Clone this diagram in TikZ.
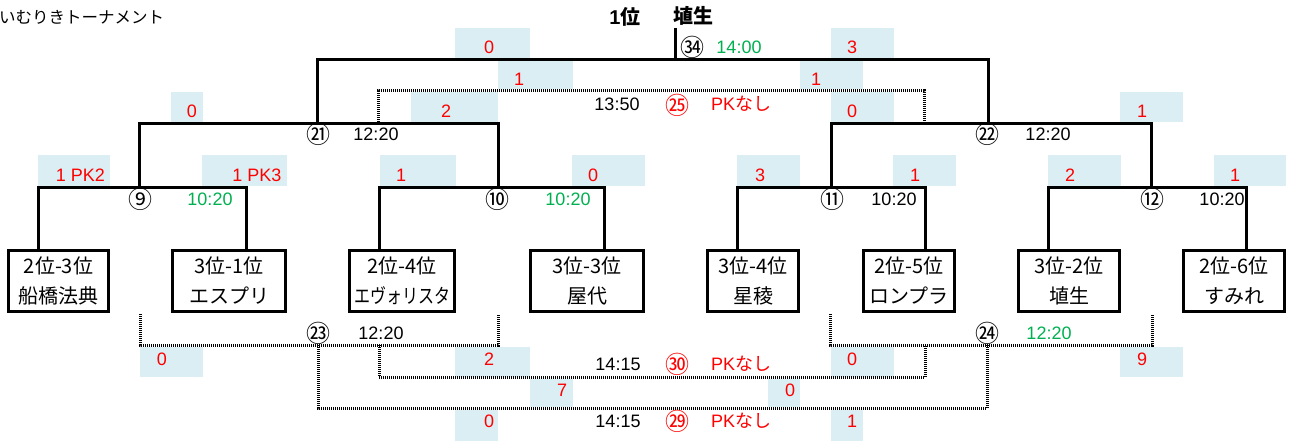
\documentclass[tikz,border=0pt]{standalone}
\usepackage{graphicx}
\usepackage{fontspec}
\setmainfont{Noto Sans CJK JP}
\newfontfamily\lat{Liberation Sans}
\definecolor{scoreblue}{RGB}{218,238,243}
\definecolor{xred}{RGB}{255,0,0}
\definecolor{xgreen}{RGB}{0,176,80}
\begin{document}
\begin{tikzpicture}[x=1pt,y=-1pt,
  sol/.style={line width=3pt},
  dotl/.style={line width=3pt,dash pattern=on 1pt off 1pt},
  team/.style={draw,line width=3.5pt,minimum height=61pt,inner sep=0pt,align=center,font=\fontsize{20}{30}\selectfont},
  sc/.style={fill=scoreblue,draw=none},
  num/.style={inner sep=0pt,font=\lat\fontsize{18}{18}\selectfont,text=xred},
  tm/.style={inner sep=0pt,font=\lat\fontsize{18}{18}\selectfont},
  cn/.style={inner sep=0pt,font=\fontsize{24}{24}\selectfont},
  pk/.style={inner sep=0pt,font=\fontsize{18}{18}\selectfont,text=xred},
]
\useasboundingbox (0,0) rectangle (1292,441);
% score backgrounds
\fill[sc] (455,28) rectangle (530,58);
\fill[sc] (831,28) rectangle (894,58);
\fill[sc] (498,61) rectangle (573,89);
\fill[sc] (800,61) rectangle (863,89);
\fill[sc] (171,92) rectangle (203,122);
\fill[sc] (411,92) rectangle (498,122);
\fill[sc] (831,92) rectangle (894,122);
\fill[sc] (1120,92) rectangle (1183,122);
\fill[sc] (38,155) rectangle (110,186);
\fill[sc] (202,155) rectangle (287,186);
\fill[sc] (380,155) rectangle (456,186);
\fill[sc] (572,155) rectangle (645,186);
\fill[sc] (737,155) rectangle (800,186);
\fill[sc] (893,155) rectangle (956,186);
\fill[sc] (1048,155) rectangle (1121,186);
\fill[sc] (1214,155) rectangle (1286,186);
\fill[sc] (140,347) rectangle (203,377);
\fill[sc] (455,347) rectangle (530,377);
\fill[sc] (831,347) rectangle (894,377);
\fill[sc] (1120,347) rectangle (1183,377);
\fill[sc] (530,379) rectangle (573,407);
\fill[sc] (768,379) rectangle (800,407);
\fill[sc] (455,410) rectangle (498,441);
\fill[sc] (831,410) rectangle (863,441);

% title
\node[anchor=west,inner sep=0pt,font=\fontsize{16.5}{16.5}\selectfont] (title) at (-1,17) {いむりきトーナメント};
\node[inner sep=0pt,font=\bfseries\fontsize{20}{20}\selectfont] (rank) at (625,17) {{\lat 1}位};
\node[inner sep=0pt,font=\bfseries\fontsize{20}{20}\selectfont] (champ) at (693,16) {埴生};

% teams
\node[team,minimum width=100pt] (b1) at (58.5,281) {2位-3位\\船橋法典};
\node[team,minimum width=113pt] (b2) at (229,281) {3位-1位\\エスプリ};
\node[team,minimum width=105pt] (b3) at (402,281) {2位-4位\\\scalebox{0.8}[1]{エヴォリスタ}};
\node[team,minimum width=113pt] (b4) at (587,281) {3位-3位\\屋代};
\node[team,minimum width=91pt] (b5) at (753,281) {3位-4位\\星稜};
\node[team,minimum width=91pt] (b6) at (909,281) {2位-5位\\ロンプラ};
\node[team,minimum width=101pt] (b7) at (1069,281) {3位-2位\\埴生};
\node[team,minimum width=101pt] (b8) at (1234,281) {2位-6位\\すみれ};

% joints
\coordinate (top) at (675,28);
\coordinate (m34L) at (317,60); \coordinate (m34) at (675,60); \coordinate (m34R) at (988,60);
\coordinate (m21) at (317,124); \coordinate (m21L) at (139,124); \coordinate (m21R) at (498,124);
\coordinate (m22) at (988,124); \coordinate (m22L) at (831,124); \coordinate (m22R) at (1151,124);
\coordinate (m9) at (139,187); \coordinate (m9L) at (38,187); \coordinate (m9R) at (246,187);
\coordinate (m10) at (498,187); \coordinate (m10L) at (379,187); \coordinate (m10R) at (604,187);
\coordinate (m11) at (831,187); \coordinate (m11L) at (737,187); \coordinate (m11R) at (925,187);
\coordinate (m12) at (1151,187); \coordinate (m12L) at (1048,187); \coordinate (m12R) at (1246,187);

\draw[sol] (top) -- (m34);
\draw[sol] (m21) -- (m34L) -- (m34R) -- (m22);
\draw[sol] (m9) -- (m21L) -- (m21R) -- (m10);
\draw[sol] (m11) -- (m22L) -- (m22R) -- (m12);
\draw[sol] (b1.north -| m9L) -- (m9L) -- (m9R) -- (b2.north -| m9R);
\draw[sol] (b3.north -| m10L) -- (m10L) -- (m10R) -- (b4.north -| m10R);
\draw[sol] (b5.north -| m11L) -- (m11L) -- (m11R) -- (b6.north -| m11R);
\draw[sol] (b7.north -| m12L) -- (m12L) -- (m12R) -- (b8.north -| m12R);

% dotted brackets
\coordinate (d25a) at (378,122); \coordinate (d25b) at (378,91); \coordinate (d25c) at (924,91); \coordinate (d25d) at (924,121);
\draw[dotl] (d25a) -- (d25b) -- (d25c) -- (d25d);
\coordinate (d23a) at (140,314); \coordinate (d23b) at (140,345); \coordinate (d23c) at (498,345); \coordinate (d23d) at (498,314);
\draw[dotl] (d23a) -- (d23b) -- (d23c) -- (d23d);
\coordinate (d24a) at (830,314); \coordinate (d24b) at (830,345); \coordinate (d24c) at (1152,345); \coordinate (d24d) at (1152,314);
\draw[dotl] (d24a) -- (d24b) -- (d24c) -- (d24d);
\coordinate (d30a) at (379,345); \coordinate (d30b) at (379,377); \coordinate (d30c) at (925,377); \coordinate (d30d) at (925,345);
\draw[dotl] (d30a) -- (d30b) -- (d30c) -- (d30d);
\coordinate (d29a) at (318,345); \coordinate (d29b) at (318,408); \coordinate (d29c) at (987,408); \coordinate (d29d) at (987,345);
\draw[dotl] (d29a) -- (d29b) -- (d29c) -- (d29d);

% match labels
\node[cn] (c34) at (692,47) {㉞};
\node[tm,text=xgreen] (t34) at (739,47) {14:00};
\node[tm] (t25) at (617,104) {13:50};
\node[cn,text=xred] (c25) at (677,105) {㉕};
\node[pk] (p25) at (741,104) {{\lat PK}なし};
\node[cn] (c21) at (318,134) {㉑};
\node[tm] (t21) at (376,134) {12:20};
\node[cn] (c22) at (987,134) {㉒};
\node[tm] (t22) at (1048,134) {12:20};
\node[cn] (c9) at (140,199) {⑨};
\node[tm,text=xgreen] (t9) at (210,199) {10:20};
\node[cn] (c10) at (497,199) {⑩};
\node[tm,text=xgreen] (t10) at (568,199) {10:20};
\node[cn] (c11) at (832,199) {⑪};
\node[tm] (t11) at (894,199) {10:20};
\node[cn] (c12) at (1152,199) {⑫};
\node[tm] (t12) at (1222,199) {10:20};
\node[cn] (c23) at (318,333) {㉓};
\node[tm] (t23) at (381,333) {12:20};
\node[cn] (c24) at (987,333) {㉔};
\node[tm,text=xgreen] (t24) at (1049,333) {12:20};
\node[tm] (t30) at (618,364) {14:15};
\node[cn,text=xred] (c30) at (677,364) {㉚};
\node[pk] (p30) at (741,364) {{\lat PK}なし};
\node[tm] (t29) at (618,421) {14:15};
\node[cn,text=xred] (c29) at (677,421) {㉙};
\node[pk] (p29) at (741,421) {{\lat PK}なし};

% scores
\node[num] (s1) at (489,47) {0};
\node[num] (s2) at (852,47) {3};
\node[num] (s3) at (519,79) {1};
\node[num] (s4) at (816,79) {1};
\node[num] (s5) at (192,111) {0};
\node[num] (s6) at (446,111) {2};
\node[num] (s7) at (852,111) {0};
\node[num] (s8) at (1142,111) {1};
\node[num] (s9) at (80.5,175) {1 PK2};
\node[num] (s10) at (257,175) {1 PK3};
\node[num] (s11) at (401,175) {1};
\node[num] (s12) at (593,175) {0};
\node[num] (s13) at (760,175) {3};
\node[num] (s14) at (915,175) {1};
\node[num] (s15) at (1070,175) {2};
\node[num] (s16) at (1235,175) {1};
\node[num] (s17) at (162,359) {0};
\node[num] (s18) at (489,359) {2};
\node[num] (s19) at (852,359) {0};
\node[num] (s20) at (1142,359) {9};
\node[num] (s21) at (562,390) {7};
\node[num] (s22) at (790,390) {0};
\node[num] (s23) at (489,421) {0};
\node[num] (s24) at (852,421) {1};
\end{tikzpicture}
\end{document}
